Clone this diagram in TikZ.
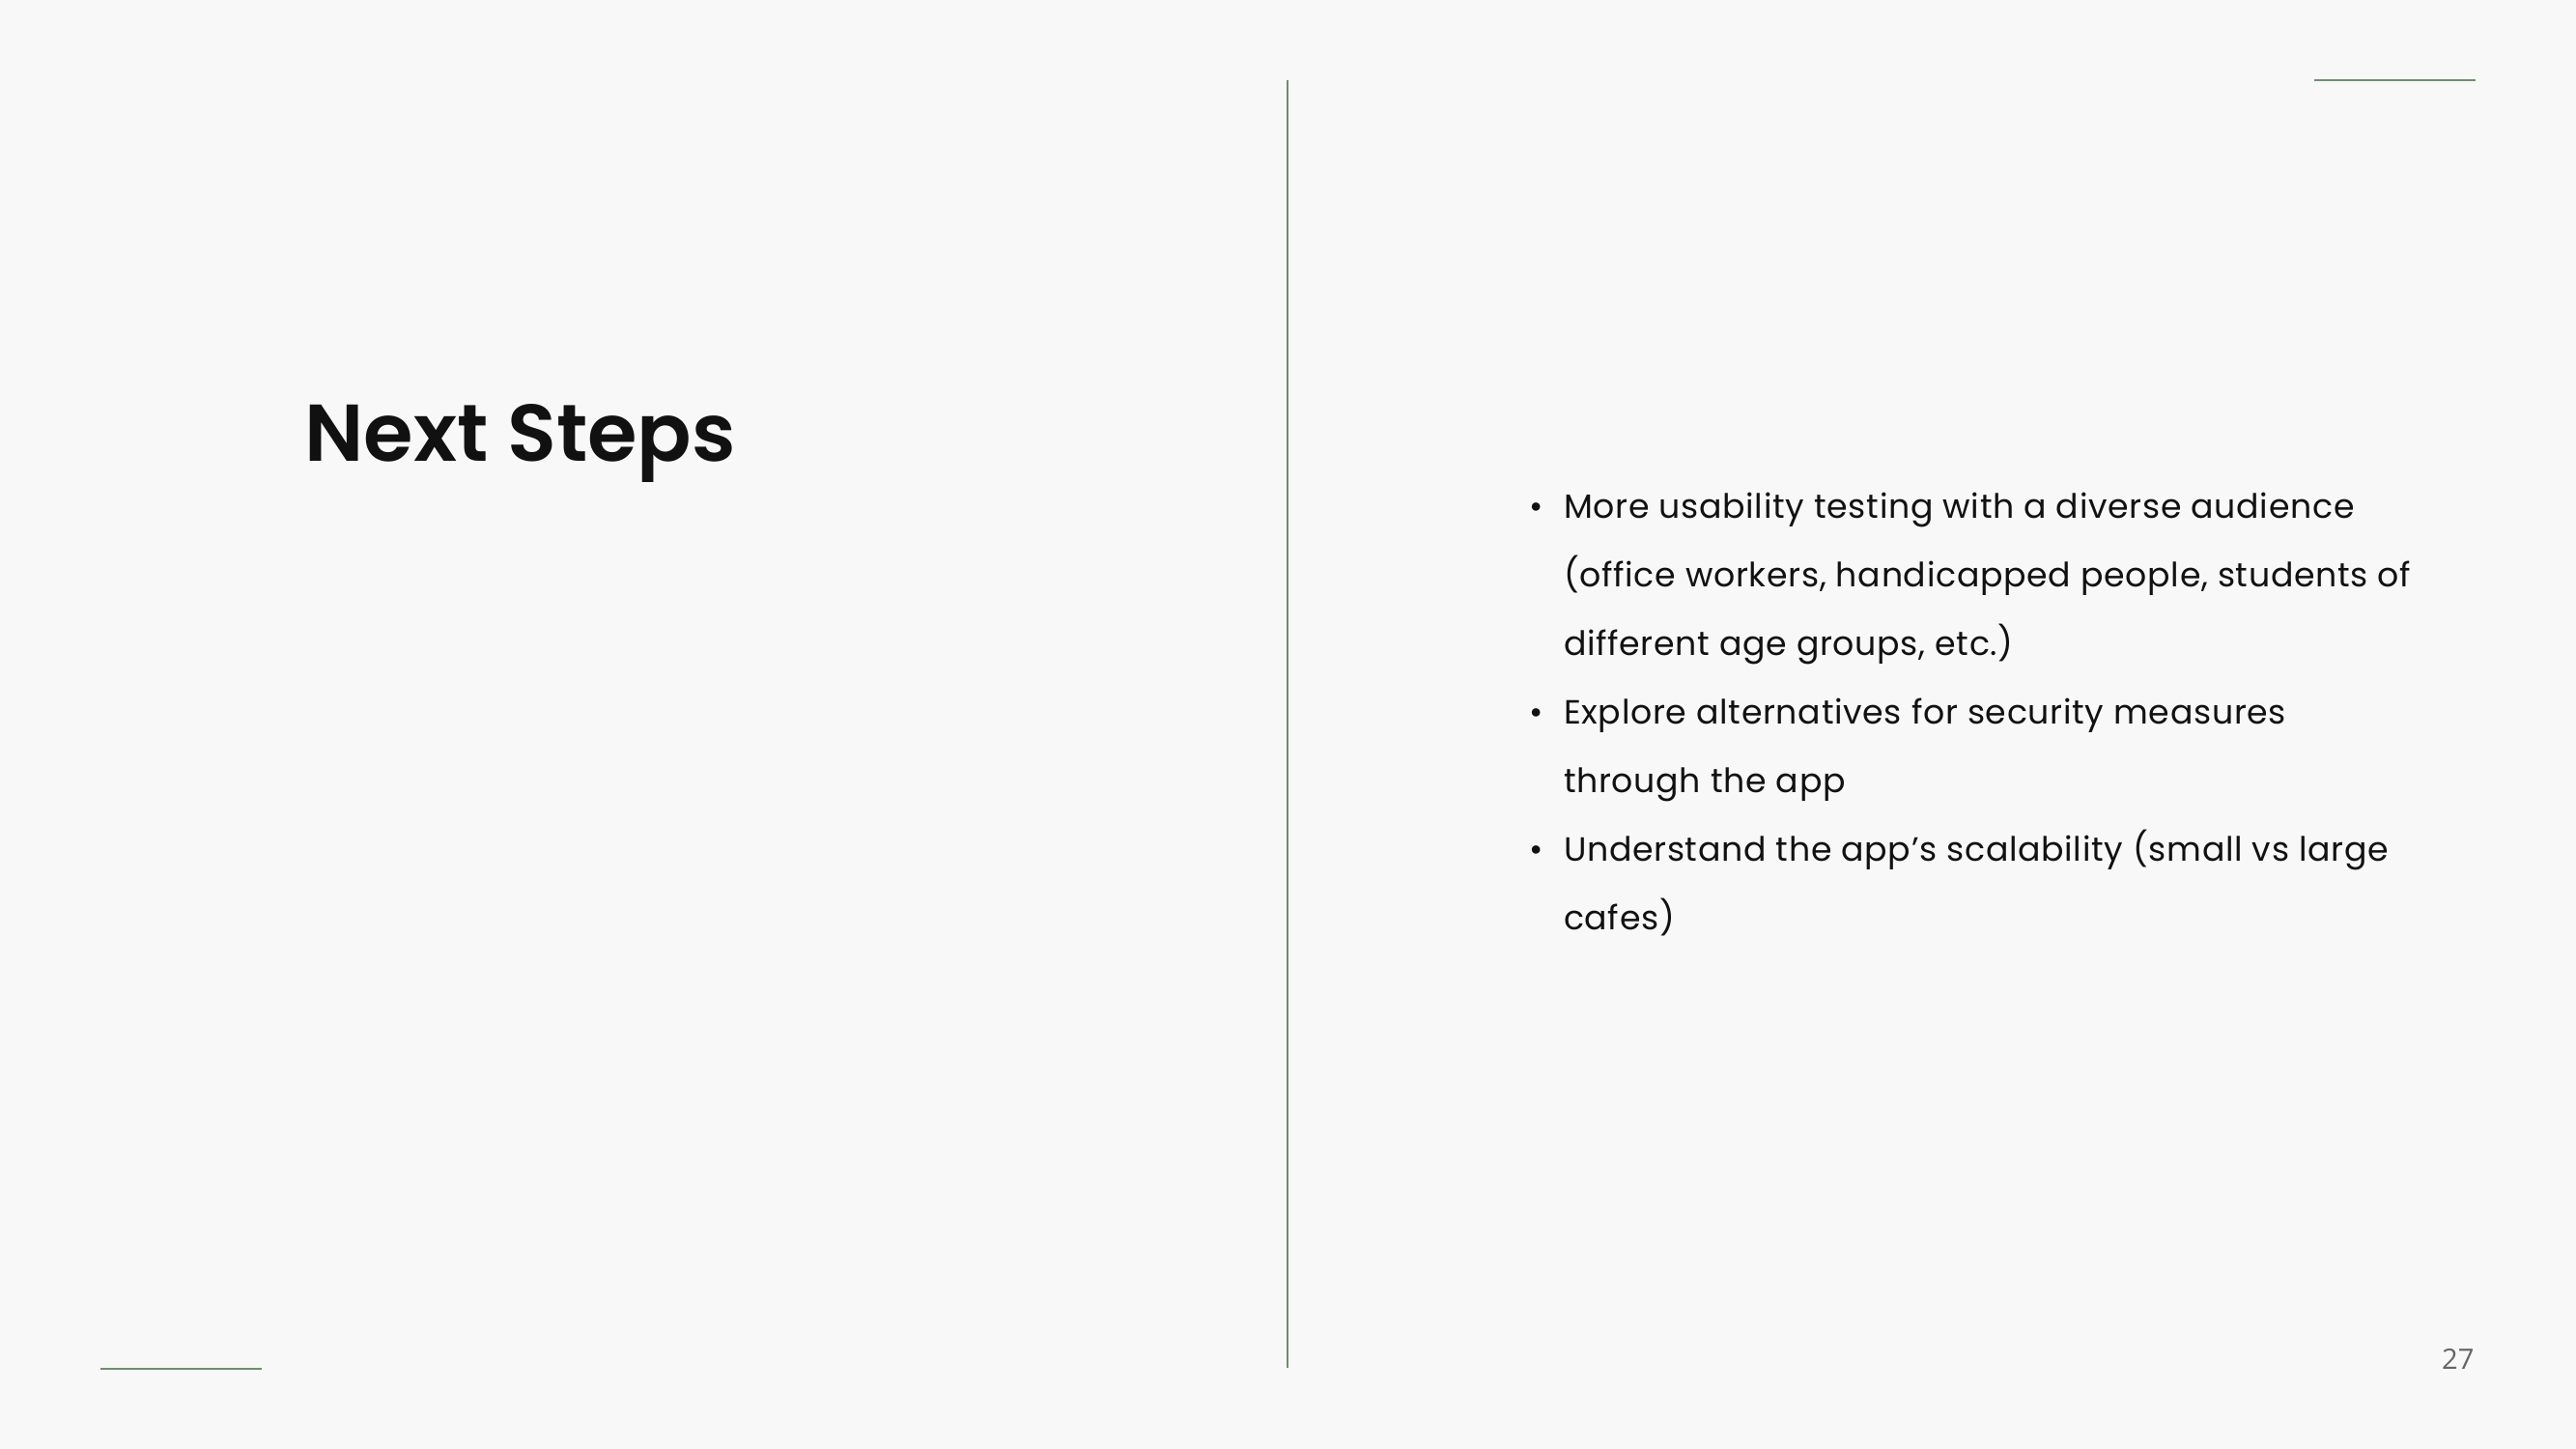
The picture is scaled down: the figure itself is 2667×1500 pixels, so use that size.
\documentclass[tikz,border=0pt]{standalone}
\usepackage{fontspec}
\setmainfont{Poppins}[LetterSpace=2]
\newfontfamily\titlefont{Poppins SemiBold}
\newfontfamily\numfont{Open Sans}
\definecolor{bgc}{HTML}{F8F8F8}
\definecolor{rulec}{HTML}{6E8E6E}
\definecolor{txtc}{HTML}{111111}
\definecolor{numc}{HTML}{666666}
\begin{document}
\begin{tikzpicture}[x=0.36pt,y=-0.36pt,
  rulestyle/.style={draw=rulec,line width=0.8pt},
  bodyline/.style={anchor=base west,inner sep=0pt,outer sep=0pt,text=txtc,font=\fontsize{12.5}{15}\selectfont},
  bulletmark/.style={anchor=base,inner sep=0pt,outer sep=0pt,text=txtc,font=\fontsize{12.5}{15}\selectfont}]
\fill[bgc] (0,0) rectangle (2667,1500);
\useasboundingbox (0,0) rectangle (2667,1500);
% rules
\coordinate (trA) at (2396,83);
\coordinate (trB) at (2563,83);
\coordinate (blA) at (104,1417);
\coordinate (blB) at (271,1417);
\coordinate (vA) at (1333,83);
\coordinate (vB) at (1333,1416);
\draw[rulestyle] (trA) -- (trB);
\draw[rulestyle] (blA) -- (blB);
\draw[rulestyle] (vA) -- (vB);
% title
\node[anchor=base west,inner sep=0pt,text=txtc,font=\titlefont\fontsize{30}{36}\selectfont] (title) at (315,477) {Next Steps};
% bullets
\node[bulletmark] (b1) at (1591,536) {•};
\node[bodyline] (l1) at (1619,536) {More usability testing with a diverse audience};
\node[bodyline] (l2) at (1619,607) {(office workers, handicapped people, students of};
\node[bodyline] (l3) at (1619,678) {different age groups, etc.)};
\node[bulletmark] (b2) at (1591,749) {•};
\node[bodyline] (l4) at (1619,749) {Explore alternatives for security measures};
\node[bodyline] (l5) at (1619,820) {through the app};
\node[bulletmark] (b3) at (1591,891) {•};
\node[bodyline] (l6) at (1619,891) {Understand the app's scalability (small vs large};
\node[bodyline] (l7) at (1619,962) {cafes)};
% page number
\node[anchor=base east,inner sep=0pt,text=numc,font=\numfont\fontsize{10.5}{12}\selectfont] (pnum) at (2562,1417) {27};
\end{tikzpicture}
\end{document}
